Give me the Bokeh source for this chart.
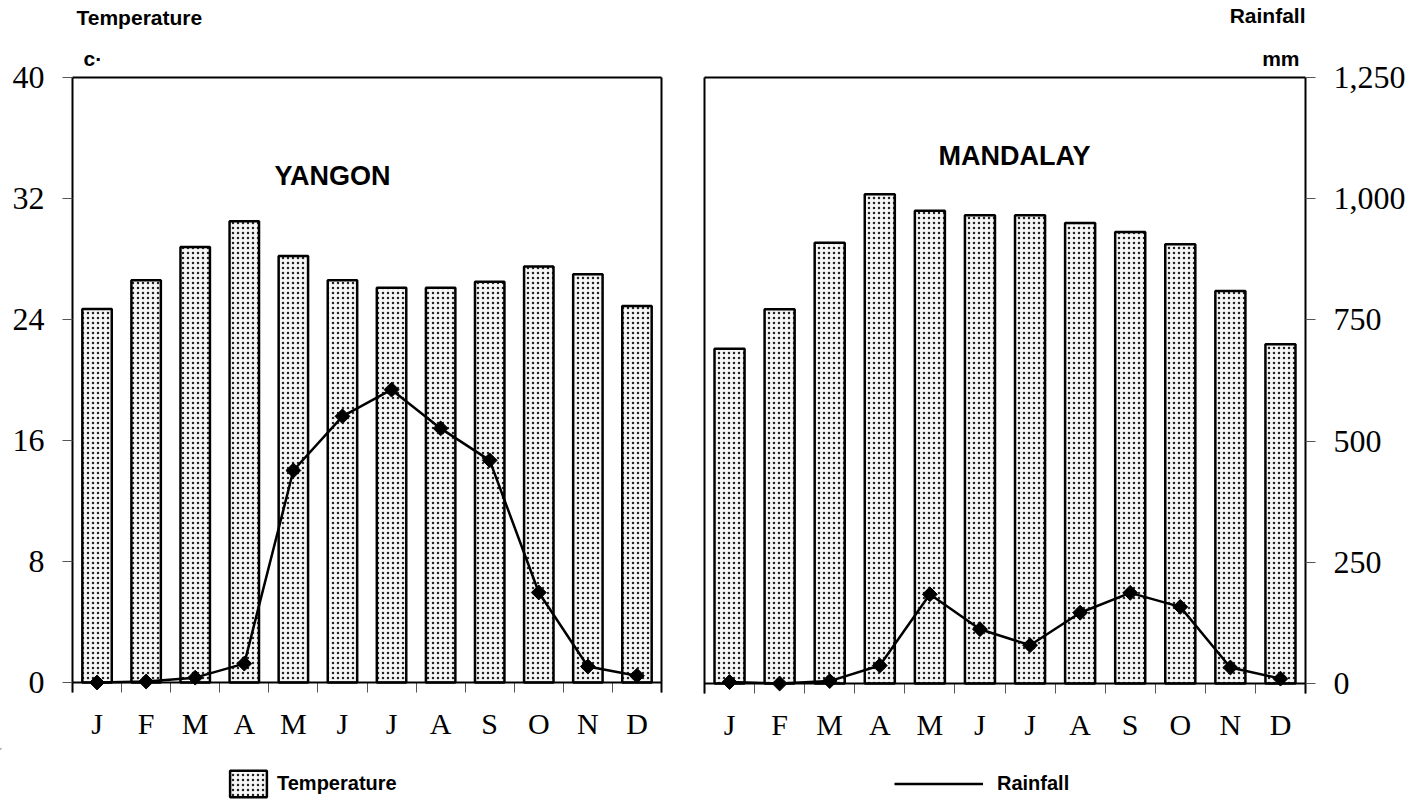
import math
from bokeh.plotting import figure
from bokeh.models import (Range1d, LinearAxis, FixedTicker, Span, Label, Legend,
                          LegendItem, NumeralTickFormatter, Title)
from bokeh.layouts import row, column
from bokeh.embed import file_html
from bokeh.resources import INLINE

months = ["J", "F", "M", "A", "M", "J", "J", "A", "S", "O", "N", "D"]
yangon_temp = [24.7, 26.6, 28.8, 30.5, 28.2, 26.6, 26.1, 26.1, 26.5, 27.5, 27.0, 24.9]
yangon_rain = [0, 2, 10, 39, 438, 550, 605, 525, 459, 186, 33, 14]
mandalay_temp = [22.1, 24.7, 29.1, 32.3, 31.2, 30.9, 30.9, 30.4, 29.8, 29.0, 25.9, 22.4]
mandalay_rain = [3, 0, 5, 37, 184, 112, 79, 146, 187, 158, 33, 10]
temp_ticks = [0, 8, 16, 24, 32, 40]
rain_ticks = [0, 250, 500, 750, 1000, 1250]
TEMP_MAX = 40
RAIN_MAX = 1250

SERIF = "Liberation Serif"
SANS = "Liberation Sans"
PAD = 10  # px of frame below the zero line (so markers at 0 are not clipped)
PAGE_W = 1424
TOP_H = 30
MAIN_H = 718
BOT_H = 52

BAR_STYLE = dict(fill_color="#f6f6f6", hatch_pattern="dot", hatch_scale=5,
                 hatch_color="#222222", hatch_weight=1,
                 line_color="black", line_width=2.5)

xs = [i + 0.5 for i in range(12)]
bounds = list(range(13))


def make_panel(temp, rain, frame_w, zero_h, border_l, border_r, border_t,
               temp_axis, rain_axis):
    fh = zero_h + PAD
    p = figure(frame_width=frame_w, frame_height=fh,
               min_border_left=border_l, min_border_right=border_r,
               min_border_top=border_t, min_border_bottom=MAIN_H - border_t - fh,
               x_range=Range1d(0, 12),
               y_range=Range1d(-TEMP_MAX * PAD / zero_h, TEMP_MAX),
               toolbar_location=None, output_backend="svg",
               x_axis_location=None, y_axis_location=None,
               outline_line_color=None, background_fill_color="white",
               border_fill_color="white")
    p.grid.visible = False
    p.extra_y_ranges = {"rain": Range1d(-RAIN_MAX * PAD / zero_h, RAIN_MAX)}

    p.vbar(x=xs, top=temp, bottom=0, width=0.6, **BAR_STYLE)
    p.line(x=xs, y=rain, y_range_name="rain", line_color="black", line_width=2.5)
    p.scatter(x=xs, y=rain, y_range_name="rain", marker="square", angle=math.pi / 4,
              size=10.5, fill_color="black", line_color="black")

    p.add_layout(Span(location=0, dimension="width", line_color="black", line_width=2))

    top = LinearAxis(ticker=FixedTicker(ticks=[]), axis_line_width=2,
                     major_label_text_font_size="0px", major_tick_out=0, minor_tick_out=0,
                     major_label_standoff=0)
    p.add_layout(top, "above")

    def side_axis(kind):
        if kind == "temp":
            ax = LinearAxis(ticker=FixedTicker(ticks=temp_ticks))
        elif kind == "rain":
            ax = LinearAxis(y_range_name="rain", ticker=FixedTicker(ticks=rain_ticks),
                            formatter=NumeralTickFormatter(format="0,0"))
        else:
            ax = LinearAxis(ticker=FixedTicker(ticks=[]), major_label_text_font_size="0px")
        ax.axis_line_width = 2
        ax.major_tick_out = 10
        ax.major_tick_in = 0
        ax.minor_tick_out = 0
        ax.minor_tick_in = 0
        ax.major_tick_line_color = "#555555"
        ax.major_tick_line_width = 1
        if kind != "none":
            ax.major_label_text_font = SERIF
            ax.major_label_text_font_size = "32px"
            ax.major_label_text_color = "black"
            ax.major_label_standoff = 18
        return ax

    p.add_layout(side_axis(temp_axis), "left")
    p.add_layout(side_axis(rain_axis), "right")

    xax = LinearAxis(ticker=FixedTicker(ticks=xs, minor_ticks=bounds),
                     major_label_overrides={x: m for x, m in zip(xs, months)},
                     axis_line_color=None, major_tick_out=0, major_tick_in=0,
                     minor_tick_in=PAD, minor_tick_out=0,
                     minor_tick_line_color="#555555", minor_tick_line_width=1,
                     major_label_text_font=SERIF, major_label_text_font_size="30px",
                     major_label_text_color="black", major_label_standoff=14)
    p.add_layout(xax, "below")
    return p


# left panel: frame 72..661 (page), zero line at y=682, top at 77
p1 = make_panel(yangon_temp, yangon_rain, 589, 605, 72, 20, 77 - TOP_H, "temp", "none")
# right panel: frame 704..1305, zero line at y=681, top at 75
p2 = make_panel(mandalay_temp, mandalay_rain, 601, 606, 23, PAGE_W - 681 - 23 - 601,
                75 - TOP_H, "none", "rain")


def title(p, text, align, offset, standoff, size="21px"):
    p.add_layout(Title(text=text, align=align, offset=offset, standoff=standoff,
                       text_font=SANS, text_font_size=size, text_font_style="bold",
                       text_color="black"), "above")


# unit titles just above each frame
title(p1, "c·", "left", 11, 16)
title(p2, "mm", "right", 6, 16)


def lab(p, text, x, y, size, align="left", baseline="middle"):
    p.add_layout(Label(x=x, y=y, text=text, text_font=SANS, text_font_size=size,
                       text_font_style="bold", text_align=align, text_baseline=baseline,
                       text_color="black"))


def lx(px):
    return (px - 72) / (589 / 12)


def ly(py):
    return (682 - py) / (605 / TEMP_MAX)


def rx(px):
    return (px - 704) / (601 / 12)


def ry(py):
    return (681 - py) / (606 / TEMP_MAX)


lab(p1, "YANGON", lx(332), ly(175), "27px", align="center")
lab(p2, "MANDALAY", rx(1014), ry(153), "27px", align="center")


def strip(h):
    s = figure(width=PAGE_W, height=h, x_range=Range1d(0, PAGE_W), y_range=Range1d(h, 0),
               min_border=0, toolbar_location=None, output_backend="svg",
               x_axis_location=None, y_axis_location=None, outline_line_color=None,
               background_fill_color="white", border_fill_color="white")
    s.grid.visible = False
    return s


# top strip: axis titles (page pixel coordinates)
top = strip(TOP_H)
lab(top, "Temperature", 76, 17, "21px")
lab(top, "Rainfall", 1305, 15, "21px", align="right")

# bottom strip: legend (sample renderers placed far outside the visible range)
bot = strip(BOT_H)
sample_bar = bot.vbar(x=[-5000], top=[-900], bottom=[-1000], width=1, **BAR_STYLE)
sample_line = bot.line(x=[-5100, -5000], y=[-1000, -1000], line_color="black",
                       line_width=2.5)
LEG = dict(orientation="horizontal", border_line_color=None, background_fill_alpha=0,
           padding=0, margin=0, glyph_height=33, label_text_font=SANS,
           label_text_font_style="bold", label_text_font_size="20px",
           label_text_color="black")
bot.add_layout(Legend(items=[LegendItem(label="Temperature", renderers=[sample_bar])],
                      location=(225, 0), glyph_width=46, label_standoff=6, **LEG))
bot.add_layout(Legend(items=[LegendItem(label="Rainfall", renderers=[sample_line])],
                      location=(894, 0), glyph_width=89, label_standoff=14, **LEG))

layout = column(top, row(p1, p2, spacing=0), bot, spacing=0)
open("out.html", "w").write(file_html(layout, INLINE))
